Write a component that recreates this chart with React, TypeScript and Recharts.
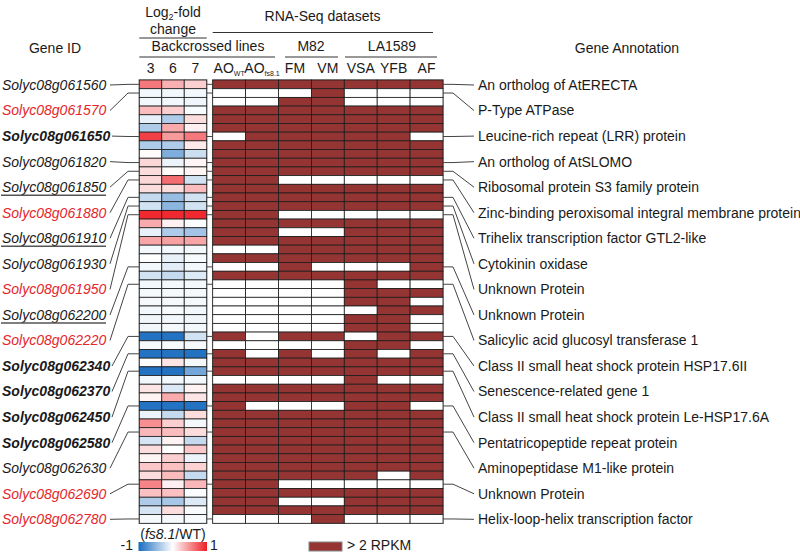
import React from "react"
import { ScatterChart, Scatter, XAxis, YAxis, ReferenceArea } from "recharts"

// genes that are labelled, and the heatmap row each one points at
const geneIds = [
  "Solyc08g061560", "Solyc08g061570", "Solyc08g061650", "Solyc08g061820", "Solyc08g061850",
  "Solyc08g061880", "Solyc08g061910", "Solyc08g061930", "Solyc08g061950", "Solyc08g062200",
  "Solyc08g062220", "Solyc08g062340", "Solyc08g062370", "Solyc08g062450", "Solyc08g062580",
  "Solyc08g062630", "Solyc08g062690", "Solyc08g062780",
]
const geneStyle = [
  "plain", "red", "bold", "plain", "under", "red", "under", "plain", "red",
  "under", "red", "bold", "bold", "bold", "bold", "plain", "red", "red",
]
const geneRows = [0, 1, 6, 9, 10, 11, 13, 14, 15, 21, 23, 29, 31, 33, 37, 40, 46, 50]
const annotations = [
  "An ortholog of AtERECTA",
  "P-Type ATPase",
  "Leucine-rich repeat (LRR) protein",
  "An ortholog of AtSLOMO",
  "Ribosomal protein S3 family protein",
  "Zinc-binding peroxisomal integral membrane protein",
  "Trihelix transcription factor GTL2-like",
  "Cytokinin oxidase",
  "Unknown Protein",
  "Unknown Protein",
  "Salicylic acid glucosyl transferase 1",
  "Class II small heat shock protein HSP17.6II",
  "Senescence-related gene 1",
  "Class II small heat shock protein Le-HSP17.6A",
  "Pentatricopeptide repeat protein",
  "Aminopeptidase M1-like protein",
  "Unknown Protein",
  "Helix-loop-helix transcription factor",
]

// log2 fold change (fs8.1/WT) for backcrossed lines 3, 6, 7
const backcrossLines = ["3", "6", "7"]
const log2fc3 = [
  0.6, -0.05, -0.05, 0.3, -0.1, -0.35, 0.85, -0.35, 0.02, 0.18,
  0.15, 0.18, 0.15, -0.25, -0.2, 0.95, 0.38, -0.1, 0.4, -0.05,
  0.0, -0.05, -0.2, -0.05, -0.04, -0.04, -0.05, -0.06, -0.06, -0.95,
  -0.04, -0.95, 0.0, -0.95, -0.05, 0.12, 0.05, -0.95, -0.08, 0.5,
  0.32, -0.18, 0.15, 0.05, 0.25, 0.15, 0.55, 0.28, -0.35, -0.18,
  -0.04,
]
const log2fc6 = [
  0.35, -0.05, -0.05, 0.22, -0.35, 0.38, 0.45, -0.35, -0.55, -0.08,
  0.02, 0.65, 0.15, -0.45, -0.5, 0.95, 0.07, -0.35, 0.42, -0.05,
  -0.1, -0.12, -0.25, -0.05, -0.04, -0.04, -0.03, -0.05, -0.04, -0.95,
  -0.03, -0.95, 0.12, -0.95, -0.05, -0.15, 0.38, -0.95, -0.25, 0.22,
  0.3, 0.06, 0.0, 0.22, 0.28, 0.3, 0.07, 0.28, -0.38, 0.15,
  -0.04,
]
const log2fc7 = [
  0.22, -0.05, -0.07, -0.03, 0.15, 0.07, 0.6, 0.1, -0.22, 0.04,
  0.05, -0.2, 0.3, -0.2, -0.2, 0.95, -0.02, -0.4, 0.4, -0.05,
  -0.03, -0.05, -0.15, -0.05, -0.04, -0.04, -0.05, -0.06, -0.05, -0.2,
  -0.04, -0.95, -0.04, -0.6, -0.05, 0.06, 0.12, -0.95, 0.15, -0.05,
  0.15, -0.25, 0.25, -0.08, 0.2, -0.25, 0.32, -0.02, -0.15, -0.03,
  -0.03,
]

// RNA-Seq: 1 = > 2 RPKM
const aoWT = [
  1, 0, 0, 1, 1, 1, 0, 1, 1, 1,  1, 1, 1, 1, 1, 1, 1, 1, 1, 0,
  1, 0, 1, 0, 0, 0, 0, 0, 0, 1,  0, 1, 1, 1, 0, 1, 1, 1, 1, 1,
  1, 1, 1, 1, 1, 1, 1, 1, 1, 1,  0,
]
const aoFs81 = [
  1, 0, 0, 1, 1, 1, 1, 1, 1, 1,  1, 1, 1, 1, 1, 1, 1, 1, 1, 0,
  1, 0, 1, 0, 0, 0, 0, 0, 0, 0,  0, 0, 1, 1, 0, 1, 1, 0, 1, 1,
  1, 1, 1, 1, 1, 1, 1, 1, 1, 1,  0,
]
const fm = [
  1, 0, 1, 1, 1, 1, 1, 1, 1, 1,  1, 0, 1, 1, 1, 0, 1, 0, 1, 1,
  1, 1, 1, 0, 0, 0, 0, 0, 0, 1,  0, 1, 1, 1, 0, 1, 1, 0, 1, 1,
  1, 1, 1, 1, 1, 1, 0, 1, 0, 1,  0,
]
const vm = [
  1, 1, 1, 1, 1, 1, 1, 1, 1, 1,  1, 0, 1, 1, 1, 0, 1, 0, 1, 1,
  1, 0, 1, 0, 0, 0, 0, 0, 0, 1,  0, 0, 1, 1, 0, 1, 1, 0, 1, 1,
  1, 1, 1, 1, 1, 1, 0, 1, 0, 1,  1,
]
const vsa = [
  1, 0, 0, 1, 1, 1, 1, 1, 1, 1,  1, 0, 1, 1, 1, 0, 1, 1, 1, 1,
  1, 0, 1, 1, 1, 1, 0, 1, 1, 0,  1, 1, 1, 1, 1, 1, 1, 1, 1, 1,
  1, 1, 1, 1, 1, 1, 0, 1, 1, 1,  0,
]
const yfb = [
  1, 0, 0, 1, 1, 1, 1, 1, 1, 1,  1, 0, 1, 1, 1, 0, 1, 1, 1, 1,
  1, 0, 1, 0, 1, 1, 1, 1, 1, 1,  1, 0, 1, 1, 0, 1, 1, 1, 1, 1,
  1, 1, 1, 1, 1, 0, 0, 1, 1, 1,  0,
]
const af = [
  1, 0, 0, 1, 1, 1, 0, 1, 1, 1,  1, 0, 1, 1, 1, 0, 1, 1, 1, 1,
  1, 1, 1, 0, 1, 0, 1, 0, 0, 1,  0, 1, 1, 1, 0, 1, 1, 0, 1, 1,
  1, 1, 1, 1, 1, 1, 0, 1, 1, 1,  0,
]

const N_ROWS = log2fc3.length

// layout
const FONT = "'Liberation Sans', Arial, sans-serif"
const RED_TXT = "#e5262c"
const DARK = "#943533"
const TOP = 80
const BOTTOM = 523.3
const ROW_H = (BOTTOM - TOP) / N_ROWS
const FC_L = 139.3
const FC_R = 206.7
const RNA_L = 212.7
const RNA_R = 443
const FC_W = (FC_R - FC_L) / 3
const RNA_W = (RNA_R - RNA_L) / 7
const rowY = (r: number) => TOP + (r + 0.5) * ROW_H
const fcX = (c: number) => FC_L + (c + 0.5) * FC_W
const rnaX = (c: number) => RNA_L + (c + 0.5) * RNA_W

const fcData = [log2fc3, log2fc6, log2fc7].flatMap((vals, col) =>
  vals.map((v, row) => ({ col, row, v })),
)
const rnaData = [aoWT, aoFs81, fm, vm, vsa, yfb, af].flatMap((vals, col) =>
  vals.map((v, row) => ({ col, row, v })),
)
const labelTicks = geneIds.map((_, i) => i)
// anchors the label axes to a (drawn-empty) series so their ticks get laid out
const labelData = labelTicks.map((lab) => ({ col: 0, lab }))

function fcColor(v: number) {
  const t = Math.min(1, Math.abs(v))
  const end = v >= 0 ? [238, 30, 36] : [24, 108, 192]
  const c = end.map((e) => Math.round(255 + (e - 255) * t))
  return `rgb(${c[0]},${c[1]},${c[2]})`
}

const FcCell = (p: any) => (
  <rect
    x={p.cx - FC_W / 2}
    y={p.cy - ROW_H / 2}
    width={FC_W}
    height={ROW_H}
    fill={fcColor(p.payload.v)}
    stroke="#1c1c1c"
    strokeWidth={0.8}
  />
)

const RnaCell = (p: any) => (
  <rect
    x={p.cx - RNA_W / 2}
    y={p.cy - ROW_H / 2}
    width={RNA_W}
    height={ROW_H}
    fill={p.payload.v ? DARK : "#ffffff"}
    stroke="#1c1c1c"
    strokeWidth={0.8}
  />
)

const NoMark = () => <g />

const GeneTick = ({ y, payload }: any) => {
  const i = payload.value
  const st = geneStyle[i]
  const ry = rowY(geneRows[i])
  const x0 = st === "bold" ? 112 : 110
  return (
    <g>
      <text
        x={2}
        y={y}
        dy="0.35em"
        fontFamily={FONT}
        fontSize={14}
        fontStyle="italic"
        fontWeight={st === "bold" ? 700 : 400}
        fill={st === "red" ? RED_TXT : "#1a1a1a"}
      >
        {geneIds[i]}
      </text>
      {st === "under" && <line x1={1} x2={106} y1={y + 8} y2={y + 8} stroke="#555" strokeWidth={1.5} />}
      <polyline points={`${x0},${y} 128,${ry} ${FC_L},${ry}`} fill="none" stroke="#444" strokeWidth={1} />
      <line x1={FC_R} x2={RNA_L} y1={ry} y2={ry} stroke="#444" strokeWidth={1} />
    </g>
  )
}

const AnnotTick = ({ y, payload }: any) => {
  const i = payload.value
  const ry = rowY(geneRows[i])
  return (
    <g>
      <polyline points={`${RNA_R},${ry} 453,${ry} 474,${y}`} fill="none" stroke="#444" strokeWidth={1} />
      <text x={478} y={y} dy="0.35em" fontFamily={FONT} fontSize={14} fill="#1a1a1a">
        {annotations[i]}
      </text>
    </g>
  )
}

function Headers() {
  const t = { fontFamily: FONT, fontSize: 14, fill: "#1a1a1a" }
  const rnaNames = ["FM", "VM", "VSA", "YFB", "AF"]
  return (
    <svg width={800} height={553} style={{ position: "absolute", left: 0, top: 0, pointerEvents: "none" }}>
      <defs>
        <linearGradient id="fcGrad" x1="0" x2="1" y1="0" y2="0">
          <stop offset="0" stopColor={fcColor(-1)} />
          <stop offset="0.5" stopColor="#ffffff" />
          <stop offset="1" stopColor={fcColor(1)} />
        </linearGradient>
      </defs>
      <text {...t} x={55} y={48} dy="0.35em" textAnchor="middle">Gene ID</text>
      <text {...t} x={627} y={48} dy="0.35em" textAnchor="middle">Gene Annotation</text>

      <text {...t} x={173} y={12} dy="0.35em" textAnchor="middle">
        Log<tspan fontSize={9} dy={3}>2</tspan><tspan dy={-3}>-fold</tspan>
      </text>
      <text {...t} x={173} y={29.5} dy="0.35em" textAnchor="middle">change</text>
      <line x1={FC_L} x2={FC_R} y1={38} y2={38} stroke="#333" strokeWidth={1.2} />

      <text {...t} x={322.5} y={16} dy="0.35em" textAnchor="middle">RNA-Seq datasets</text>
      <line x1={RNA_L} x2={433} y1={32.5} y2={32.5} stroke="#333" strokeWidth={1.2} />

      <text {...t} x={208} y={46} dy="0.35em" textAnchor="middle">Backcrossed lines</text>
      <line x1={FC_L} x2={275} y1={57} y2={57} stroke="#333" strokeWidth={1.2} />
      <text {...t} x={311} y={46} dy="0.35em" textAnchor="middle">M82</text>
      <line x1={285} x2={338} y1={57} y2={57} stroke="#333" strokeWidth={1.2} />
      <text {...t} x={392} y={46} dy="0.35em" textAnchor="middle">LA1589</text>
      <line x1={345} x2={437} y1={57} y2={57} stroke="#333" strokeWidth={1.2} />

      {backcrossLines.map((l, c) => (
        <text key={l} {...t} x={fcX(c)} y={68} dy="0.35em" textAnchor="middle">{l}</text>
      ))}
      <text {...t} x={rnaX(0)} y={68} dy="0.35em" textAnchor="middle">
        AO<tspan fontSize={7} dy={3}>WT</tspan>
      </text>
      <text {...t} x={rnaX(1)} y={68} dy="0.35em" textAnchor="middle">
        AO<tspan fontSize={7} dy={3}>fs8.1</tspan>
      </text>
      {rnaNames.map((n, k) => (
        <text key={n} {...t} x={rnaX(k + 2)} y={68} dy="0.35em" textAnchor="middle">{n}</text>
      ))}

      <text {...t} x={173} y={534} dy="0.35em" textAnchor="middle">
        (<tspan fontStyle="italic">fs8.1</tspan>/WT)
      </text>
      <rect x={138.5} y={542} width={68.5} height={9} fill="url(#fcGrad)" />
      <text {...t} x={133} y={545.5} dy="0.35em" textAnchor="end">-1</text>
      <text {...t} x={210} y={545.5} dy="0.35em">1</text>
      <rect x={309} y={542} width={33} height={9} fill={DARK} stroke="#888" strokeWidth={1} />
      <text {...t} x={347} y={545.5} dy="0.35em">&gt; 2 RPKM</text>
    </svg>
  )
}

export default function App() {
  return (
    <div style={{ position: "fixed", left: 0, top: 0, width: 800, height: 553, background: "#fff", fontFamily: FONT }}>
      <ScatterChart width={800} height={553} margin={{ top: TOP, right: 0, bottom: 553 - BOTTOM, left: 0 }}>
        <XAxis xAxisId="fc" dataKey="col" type="number" domain={[-0.5, 2.5]} padding={{ left: 0, right: RNA_R - FC_R }} hide />
        <XAxis xAxisId="rna" dataKey="col" type="number" domain={[-0.5, 6.5]} padding={{ left: RNA_L - FC_L, right: 0 }} hide />
        <YAxis yAxisId="row" dataKey="row" type="number" domain={[-0.5, N_ROWS - 0.5]} reversed hide />
        <YAxis
          yAxisId="gene"
          dataKey="lab"
          orientation="left"
          type="number"
          width={FC_L}
          domain={[0, geneIds.length - 1]}
          padding={{ top: 5, bottom: 4 }}
          reversed
          ticks={labelTicks}
          interval={0}
          axisLine={false}
          tickLine={false}
          tick={<GeneTick />}
        />
        <YAxis
          yAxisId="annot"
          dataKey="lab"
          orientation="right"
          type="number"
          width={800 - RNA_R}
          domain={[0, annotations.length - 1]}
          padding={{ top: 5, bottom: 4 }}
          reversed
          ticks={labelTicks}
          interval={0}
          axisLine={false}
          tickLine={false}
          tick={<AnnotTick />}
        />
        <Scatter data={labelData} xAxisId="fc" yAxisId="gene" shape={NoMark} isAnimationActive={false} />
        <Scatter data={labelData} xAxisId="fc" yAxisId="annot" shape={NoMark} isAnimationActive={false} />
        <Scatter data={fcData} xAxisId="fc" yAxisId="row" shape={FcCell} isAnimationActive={false} />
        <Scatter data={rnaData} xAxisId="rna" yAxisId="row" shape={RnaCell} isAnimationActive={false} />
        <ReferenceArea xAxisId="fc" yAxisId="row" x1={-0.5} x2={2.5} y1={-0.5} y2={N_ROWS - 0.5} fill="none" stroke="#9a9a9a" strokeWidth={1.5} />
        <ReferenceArea xAxisId="rna" yAxisId="row" x1={-0.5} x2={6.5} y1={-0.5} y2={N_ROWS - 0.5} fill="none" stroke="#9a9a9a" strokeWidth={1.5} />
      </ScatterChart>
      <Headers />
    </div>
  )
}
